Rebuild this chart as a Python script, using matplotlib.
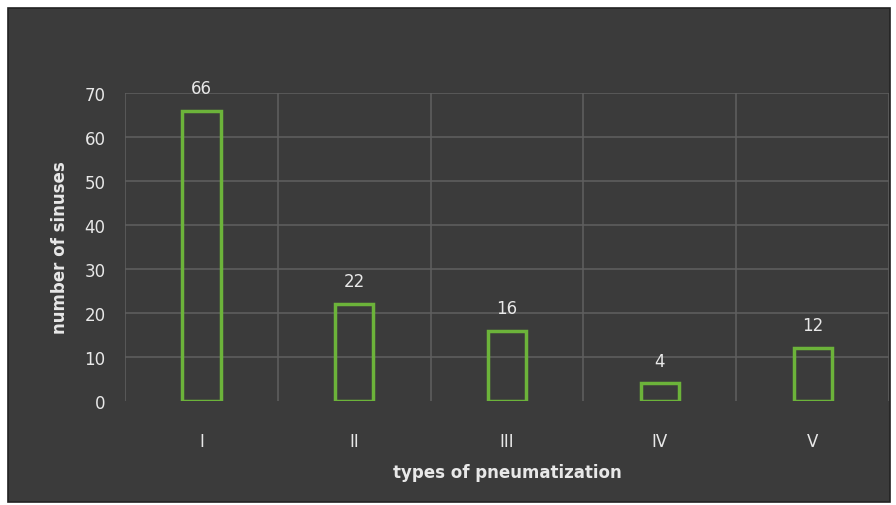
import matplotlib.pyplot as plt
from matplotlib.patches import Rectangle

categories = ['I', 'II', 'III', 'IV', 'V']
counts = [66, 22, 16, 4, 12]

bg = '#3b3b3b'
txt = '#e8e8e8'
green = '#6cb33a'

fig = plt.figure(figsize=(8.96, 5.06), dpi=100, facecolor='white')
# dark panel behind the chart
fig.patches.append(Rectangle((8 / 896, 3 / 506), 882 / 896, 494 / 506,
                             transform=fig.transFigure, facecolor=bg,
                             edgecolor='#222222', linewidth=1.2, zorder=-10))

ax = fig.add_axes([125 / 896, 104 / 506, 764 / 896, 308 / 506])
ax.set_facecolor(bg)
ax.patch.set_alpha(0)

x = range(len(categories))
bars = ax.bar(x, counts, width=0.25, facecolor='none', edgecolor=green,
              linewidth=2.5, zorder=3)

for xi, v in zip(x, counts):
    ax.annotate(str(v), (xi, v), xytext=(0, 10), textcoords='offset points',
                ha='center', va='bottom', color=txt, fontsize=12)

ax.set_xlim(-0.5, len(categories) - 0.5)
ax.set_ylim(0, 70)
ax.set_yticks(range(0, 71, 10))
ax.set_xticks(list(x))
ax.set_xticklabels(categories)

# gridlines: horizontal at ticks, vertical at category boundaries
for yv in range(10, 71, 10):
    ax.axhline(yv, color='#606060', linewidth=1.1, zorder=1)
for b in range(len(categories) + 1):
    ax.axvline(b - 0.5, color='#606060', linewidth=1.1, zorder=1)

for s in ax.spines.values():
    s.set_visible(False)
ax.tick_params(length=0, colors=txt, labelsize=12)
ax.tick_params(axis='y', pad=14)
ax.tick_params(axis='x', pad=22)

ax.set_xlabel('types of pneumatization', color=txt, fontsize=12,
              fontweight='bold', labelpad=10)
ax.set_ylabel('number of sinuses', color=txt, fontsize=12,
              fontweight='bold', labelpad=11)

fig.savefig('out.png', dpi=100, facecolor=fig.get_facecolor())
